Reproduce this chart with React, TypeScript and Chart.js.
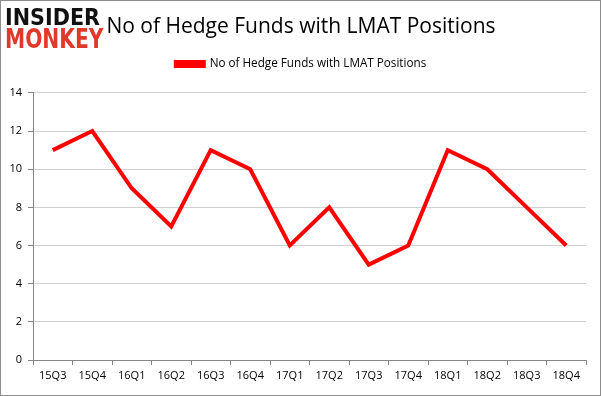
import React, { useEffect, useRef } from "react";
import { Chart, registerables } from "chart.js";

Chart.register(...registerables);

const categories = ["15Q3", "15Q4", "16Q1", "16Q2", "16Q3", "16Q4", "17Q1", "17Q2", "17Q3", "17Q4", "18Q1", "18Q2", "18Q3", "18Q4"];
const hedgeFunds = [11, 12, 9, 7, 11, 10, 6, 8, 5, 6, 11, 10, 8, 6];
const seriesName = "No of Hedge Funds with LMAT Positions";
const chartTitle = "No of Hedge Funds with LMAT Positions";

const W = 601;
const H = 396;

const headerShift = {
  id: "headerShift",
  beforeInit(chart: any) {
    const lg = chart.legend;
    if (!lg) return;
    const orig = lg.fit;
    lg.fit = function (this: any) {
      orig.call(this);
      this.height += 13;
    };
  },
  afterLayout(chart: any) {
    const dx = 8;
    for (const b of [chart.titleBlock, chart.legend]) {
      if (b) {
        b.left += dx;
        b.right += dx;
      }
    }
  },
};

export default function App() {
  const ref = useRef<HTMLCanvasElement | null>(null);
  useEffect(() => {
    if (!ref.current) return;
    const font = "'Open Sans', 'Liberation Sans', sans-serif";
    const chart = new Chart(ref.current, {
      type: "line",
      data: {
        labels: categories,
        datasets: [
          {
            label: seriesName,
            data: hedgeFunds,
            borderColor: "#ff0000",
            backgroundColor: "#ff0000",
            borderWidth: 4,
            pointRadius: 0,
            tension: 0,
          },
        ],
      },
      plugins: [headerShift],
      options: {
        responsive: false,
        animation: false,
        layout: { padding: { left: 0, right: 15, top: 0, bottom: 0 } },
        plugins: {
          title: {
            display: true,
            text: chartTitle,
            color: "#000",
            font: { family: font, size: 21, weight: "normal" },
            padding: { top: 14, bottom: 9 },
          },
          legend: {
            display: true,
            labels: {
              color: "#000",
              font: { family: font, size: 11.7 },
              boxWidth: 28,
              boxHeight: 4,
              padding: 10,
            },
          },
          tooltip: { enabled: false },
        },
        scales: {
          x: {
            offset: true,
            grid: {
              offset: true,
              drawOnChartArea: false,
              drawTicks: true,
              tickLength: 5,
              color: "#868686",
            },
            border: { color: "#868686" },
            ticks: { color: "#000", font: { family: font, size: 11 }, padding: 4, maxRotation: 0, autoSkip: false },
            afterFit: (s: any) => {
              s.height = 36;
            },
          },
          y: {
            min: 0,
            max: 14,
            ticks: { stepSize: 2, color: "#000", font: { family: font, size: 11 }, padding: 6 },
            grid: { color: "#d0d0d0", tickLength: 5, tickColor: "#868686" },
            border: { color: "#868686" },
            afterFit: (s: any) => {
              s.width = 33;
            },
          },
        },
      },
    });
    return () => chart.destroy();
  }, []);

  const logoBase: React.CSSProperties = {
    position: "absolute",
    left: 5,
    fontFamily: "'DejaVu Sans', sans-serif",
    fontWeight: 900,
    transformOrigin: "left top",
    whiteSpace: "nowrap",
  };

  return (
    <div style={{ position: "fixed", left: 0, top: 0, width: W, height: H, background: "#fff" }}>
      <canvas ref={ref} width={W} height={H} style={{ position: "absolute", left: 0, top: 0, width: W, height: H }} />
      <div style={{ position: "absolute", left: 0, top: 0, width: W, height: H, boxSizing: "border-box", border: "1px solid #8c8c8c", pointerEvents: "none" }} />
      <div style={{ ...logoBase, top: 5, fontSize: 23.3, lineHeight: "23.3px", color: "#111", transform: "scaleX(0.89)" }}>INSIDER</div>
      <div style={{ ...logoBase, top: 25, fontSize: 27, lineHeight: "27px", color: "#e0392b", transform: "scaleX(0.75)" }}>MONKEY</div>
    </div>
  );
}
